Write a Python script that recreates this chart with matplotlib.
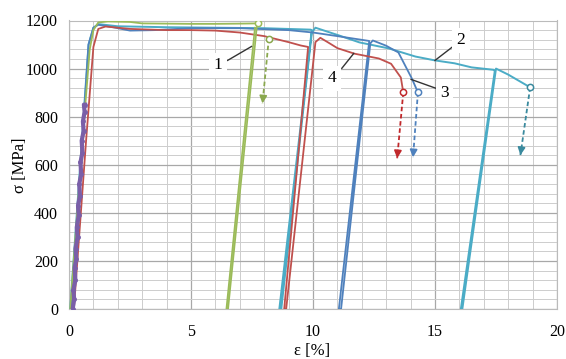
import numpy as np
from matplotlib import pyplot as plt
from matplotlib.ticker import MultipleLocator

plt.rcParams['font.family'] = ['Liberation Serif', 'DejaVu Serif']

# curve 1 (green)
eps1 = [0.05, 0.55, 0.85, 1.0, 1.2, 1.6, 2.5, 3.0, 4.0, 5.0, 6.0, 7.0, 7.74]
sig1 = [0, 700, 1080, 1160, 1192, 1196, 1194, 1188, 1187, 1186, 1186, 1187, 1188]
eps1_un = [7.62, 6.45, 6.52, 7.70]
sig1_un = [1170, 0, 0, 1175]
end1 = (8.19, 1125)
tip1 = (7.93, 855)

# curve 2 (cyan)
eps2 = [0.05, 0.8, 1.0, 1.2, 2.0, 4.0, 6.0, 8.0, 9.9, 9.95, 8.62, 8.70, 9.95, 10.1,
        11.06, 11.9, 13.1, 14.2, 15.0, 15.8, 16.5, 17.4, 17.45, 16.06, 16.12, 17.5,
        18.0, 18.9]
sig2 = [0, 1100, 1170, 1185, 1176, 1172, 1170, 1168, 1162, 1160, 0, 0, 1150, 1170,
        1138, 1109, 1084, 1050, 1034, 1022, 1005, 995, 990, 0, 0, 1000,
        975, 922]
tip2 = (18.5, 640)

# curve 3 (blue)
eps3 = [0.1, 0.8, 1.0, 1.2, 1.8, 2.5, 3.5, 5.0, 7.0, 9.0, 10.0, 11.0, 12.3, 12.3,
        11.06, 11.15, 12.35, 12.45, 13.0, 13.5, 14.05, 14.3]
sig3 = [0, 1100, 1170, 1182, 1172, 1158, 1160, 1168, 1168, 1160, 1150, 1135, 1115, 1110,
        0, 0, 1105, 1117, 1095, 1067, 959, 901]
tip3 = (14.1, 631)

# curve 4 (red)
eps4 = [0.2, 0.7, 1.0, 1.2, 1.5, 2.5, 4.0, 5.0, 6.0, 7.0, 8.0, 9.0, 9.5, 9.8,
        8.82, 8.90, 10.1, 10.3, 10.6, 11.0, 11.7, 12.7, 13.2, 13.6, 13.7]
sig4 = [0, 700, 1090, 1165, 1175, 1165, 1160, 1160, 1158, 1150, 1135, 1110, 1096, 1090,
        0, 0, 1110, 1128, 1110, 1085, 1062, 1042, 1020, 963, 901]
tip4 = (13.45, 627)

# noisy elastic start (purple)
eps_p = [0.15, 0.21, 0.18, 0.26, 0.23, 0.30, 0.27, 0.35, 0.32, 0.40, 0.37, 0.45,
         0.42, 0.50, 0.47, 0.55, 0.52, 0.60, 0.57, 0.64, 0.61, 0.66]
sig_p = [0, 40, 80, 120, 170, 210, 250, 300, 340, 390, 430, 470,
         520, 560, 610, 650, 700, 740, 780, 820, 850, 850]

labels = ['1', '2', '3', '4']
label_pos = [(6.10, 1013), (16.06, 1117), (15.4, 897), (10.77, 959)]
leader_from = [(6.5, 1034), (15.69, 1088), (15.04, 918), (11.18, 1001)]
leader_to = [(7.48, 1092), (15.0, 1034), (14.02, 955), (11.67, 1063)]

green = '#9bbb59'
cyan = '#4bacc6'
blue = '#4f81bd'
red = '#c0504d'
purple = '#7a5fa8'

fig = plt.figure(figsize=(5.66, 3.59), dpi=100)
ax = fig.add_axes([69 / 566, 1 - 309 / 359, 488 / 566, 288.5 / 359])

ax.plot(eps2, sig2, color=cyan, lw=1.4, zorder=3)
ax.plot(eps3, sig3, color=blue, lw=1.3, zorder=3)
ax.plot(eps4, sig4, color=red, lw=1.3, zorder=3)
ax.plot(eps1, sig1, color=green, lw=1.3, zorder=4)
ax.plot(eps1_un, sig1_un, color=green, lw=1.2, zorder=4)
ax.plot(eps_p, sig_p, color=purple, lw=3.0, marker='.', ms=5, zorder=5)


def fracture(ax, end, tip, col):
    ax.plot([end[0], tip[0]], [end[1], tip[1]], color=col, lw=1.3, ls=(0, (2.5, 1.5)),
            zorder=5)
    dx = (tip[0] - end[0]) * 0.12
    dy = (tip[1] - end[1]) * 0.12
    ax.annotate('', xy=tip, xytext=(tip[0] - dx, tip[1] - dy),
                arrowprops=dict(arrowstyle='-|>', color=col, lw=1.2,
                                mutation_scale=11, shrinkA=0, shrinkB=0), zorder=6)
    ax.plot(*end, marker='o', ms=4.5, mfc='white', mec=col, mew=1.1, zorder=6)


ax.plot(7.74, 1188, marker='o', ms=4.5, mfc='white', mec=green, mew=1.1, zorder=6)
fracture(ax, end1, tip1, '#8aa84e')
fracture(ax, (eps2[-1], sig2[-1]), tip2, '#3a8a9e')
fracture(ax, (eps3[-1], sig3[-1]), tip3, blue)
fracture(ax, (eps4[-1], sig4[-1]), tip4, '#c0282b')

for lab, pos, a, b in zip(labels, label_pos, leader_from, leader_to):
    ax.plot([a[0], b[0]], [a[1], b[1]], color='#333333', lw=1.0, zorder=7)
    ax.text(pos[0], pos[1], lab, fontsize=12.5, ha='center', va='center', zorder=8,
            bbox=dict(boxstyle='square,pad=0.25', fc='white', ec='none'))

ax.set_xlim(0, 20)
ax.set_ylim(0, 1200)
ax.xaxis.set_major_locator(MultipleLocator(5))
ax.xaxis.set_minor_locator(MultipleLocator(1))
ax.yaxis.set_major_locator(MultipleLocator(200))
ax.yaxis.set_minor_locator(MultipleLocator(40))
ax.grid(which='major', color='#a8a8a8', lw=0.9)
ax.grid(which='minor', color='#cdcdcd', lw=0.7)
ax.set_axisbelow(True)
ax.tick_params(which='both', length=0, labelsize=11.5)
ax.tick_params(axis='x', pad=11)
ax.tick_params(axis='y', pad=8)
for s in ax.spines.values():
    s.set_color('#bbbbbb')
    s.set_linewidth(0.8)

fig.text(20 / 566, 1 - 165 / 359, 'σ [MPa]', rotation=90, ha='center', va='center',
         fontsize=12)
fig.text(312 / 566, 1 - 351 / 359, 'ε [%]', ha='center', va='center', fontsize=12)

fig.savefig('out.png', dpi=100)
